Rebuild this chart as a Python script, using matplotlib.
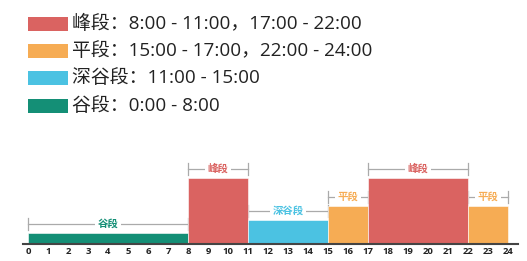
import matplotlib
matplotlib.use('Agg')
import matplotlib.pyplot as plt
from matplotlib.patches import Rectangle

plt.rcParams['font.family'] = ['Open Sans', 'Noto Sans CJK SC', 'DejaVu Sans']

# time segments (hours) and their tariff type
seg_start = [0, 8, 11, 15, 17, 22]
seg_end = [8, 11, 15, 17, 22, 24]
seg_type = ['谷段', '峰段', '深谷段', '平段', '峰段', '平段']

# relative bar height per type
level = {'谷段': 11, '深谷段': 24, '平段': 38, '峰段': 66}
colors = {'峰段': '#DA6361', '平段': '#F6AC54', '深谷段': '#4BC2E2', '谷段': '#148F76'}

legend_types = ['峰段', '平段', '深谷段', '谷段']
legend_labels = ['峰段：8:00 - 11:00，17:00 - 22:00',
                 '平段：15:00 - 17:00，22:00 - 24:00',
                 '深谷段：11:00 - 15:00',
                 '谷段：0:00 - 8:00']

hours = list(range(0, 25))

W, H = 527, 261
fig = plt.figure(figsize=(W / 100, H / 100), dpi=100)

# axes placed in pixel terms
ax_left, ax_right, ax_bottom, ax_top = 23, 518, 244, 144
ax = fig.add_axes([ax_left / W, (H - ax_bottom) / H,
                   (ax_right - ax_left) / W, (ax_bottom - ax_top) / H])
ax.set_xlim(-0.25, 24.5)
ax.set_ylim(0, 100)

widths = [e - s for s, e in zip(seg_start, seg_end)]
heights = [level[t] for t in seg_type]
ax.bar(seg_start, heights, width=widths, align='edge',
       color=[colors[t] for t in seg_type], edgecolor='white', linewidth=0.4, zorder=2)

# brackets with labels above each bar
for s, e, t in zip(seg_start, seg_end, seg_type):
    y = level[t] + 9
    ax.plot([s, e], [y, y], color='#AAAAAA', lw=0.9, zorder=1)
    ax.plot([s, s], [y - 6, y + 6], color='#AAAAAA', lw=0.9, zorder=1)
    ax.plot([e, e], [y - 6, y + 6], color='#AAAAAA', lw=0.9, zorder=1)
    ax.text((s + e) / 2, y, t, ha='center', va='center', fontsize=7.5,
            fontweight='bold', color=colors[t],
            bbox=dict(facecolor='white', edgecolor='none', pad=2), zorder=3)

for side in ['top', 'right', 'left']:
    ax.spines[side].set_visible(False)
ax.spines['bottom'].set_color('#444444')
ax.spines['bottom'].set_linewidth(1.5)
ax.set_yticks([])
ax.set_xticks(hours)
ax.set_xticklabels([str(h) for h in hours], fontsize=6.8, fontweight='bold', color='#222222')
ax.tick_params(axis='x', length=0, pad=2.5)

# legend drawn by hand
row_y = [24, 51, 78, 106]
for yc, t, lab in zip(row_y, legend_types, legend_labels):
    fig.add_artist(Rectangle((28 / W, (H - yc - 7) / H), 40 / W, 14 / H,
                             transform=fig.transFigure, facecolor=colors[t], edgecolor='none'))
    fig.text(72 / W, (H - yc) / H, lab, fontsize=13.6, color='#222222', va='center', ha='left')

fig.savefig('out.png', dpi=100)
